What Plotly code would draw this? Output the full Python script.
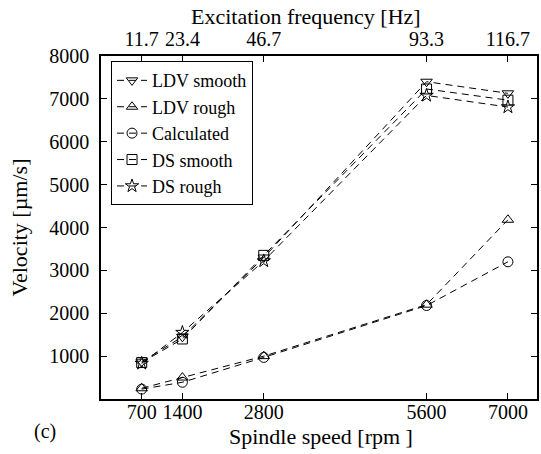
import plotly.graph_objects as go

rpm = [700, 1400, 2800, 5600, 7000]
freq_labels = ["11.7", "23.4", "46.7", "93.3", "116.7"]

ldv_smooth = [870, 1450, 3300, 7400, 7130]
ldv_rough = [250, 500, 1000, 2200, 4180]
calculated = [230, 390, 970, 2180, 3200]
ds_smooth = [850, 1400, 3350, 7230, 6970]
ds_rough = [830, 1550, 3220, 7080, 6810]

y_ticks = [1000, 2000, 3000, 4000, 5000, 6000, 7000, 8000]

series = [
    ("LDV smooth", ldv_smooth, "triangle-down-open"),
    ("LDV rough", ldv_rough, "triangle-up-open"),
    ("Calculated", calculated, "circle-open"),
    ("DS smooth", ds_smooth, "square-open"),
    ("DS rough", ds_rough, "star-open"),
]

FONT = "Liberation Serif"
F = dict(family=FONT, size=20, color="black")
FT = dict(family=FONT, size=22, color="black")

fig = go.Figure()
for name, vals, sym in series:
    fig.add_trace(go.Scatter(
        x=rpm, y=vals, name=name, mode="lines+markers",
        line=dict(color="black", width=1, dash="7px,5px"),
        marker=dict(symbol=sym, size=10, color="black", line=dict(color="black", width=1)),
    ))

# invisible trace to activate top axis
fig.add_trace(go.Scatter(x=rpm, y=ldv_smooth, xaxis="x2", mode="markers",
                         marker=dict(opacity=0), showlegend=False, hoverinfo="skip"))

axis_common = dict(ticks="inside", ticklen=6, tickcolor="black", tickfont=F,
                   showline=True, linecolor="black", linewidth=1.5,
                   showgrid=False, zeroline=False)

fig.update_layout(
    width=541, height=454,
    margin=dict(l=101, r=2, t=56, b=55),
    paper_bgcolor="white", plot_bgcolor="white",
    font=F,
    xaxis=dict(
        range=[0, 7500], tickvals=rpm, ticktext=[str(v) for v in rpm],
        ticklabelstandoff=-6,
        **axis_common,
    ),
    xaxis2=dict(
        range=[0, 7500], overlaying="x", side="top", tickvals=rpm, ticktext=freq_labels,
        **axis_common,
    ),
    yaxis=dict(
        range=[0, 8000], tickvals=y_ticks, mirror="ticks",
        ticklabelstandoff=6,
        title=dict(text="Velocity [µm/s]", standoff=16, font=FT),
        **axis_common,
    ),
    legend=dict(
        x=0.023, y=0.985, xanchor="left", yanchor="top",
        bordercolor="black", borderwidth=1, bgcolor="white",
        font=dict(family=FONT, size=18, color="black"),
        tracegroupgap=0, itemwidth=30,
    ),
    annotations=[
        dict(text="(c)", x=-0.128, y=-0.095, xref="paper", yref="paper",
             xanchor="center", yanchor="middle", showarrow=False, font=F),
        dict(text="Excitation frequency [Hz]", x=0.47, y=1.114, xref="paper", yref="paper",
             xanchor="center", yanchor="middle", showarrow=False, font=FT),
        dict(text="Spindle speed [rpm ]", x=0.505, y=-0.11, xref="paper", yref="paper",
             xanchor="center", yanchor="middle", showarrow=False, font=FT),
    ],
)

fig.write_html("out.html")
